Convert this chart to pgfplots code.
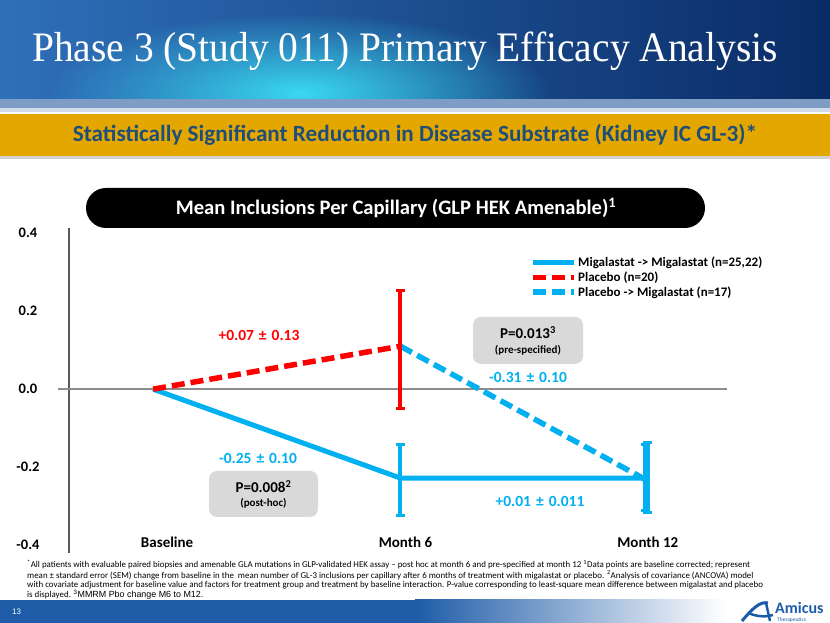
\documentclass[border=0pt]{standalone}
\usepackage{pgfplots}
\pgfplotsset{compat=1.18}
\usepackage{fontspec}
\setmainfont{Carlito}
\newfontfamily\titlefont{Liberation Serif}
\newfontfamily\arialfont{Liberation Sans}
\usetikzlibrary{fadings}
\tikzfading[name=glowfade, inner color=transparent!0, outer color=transparent!100]
\definecolor{mblue}{HTML}{00B0F0}
\definecolor{mred}{HTML}{FF0000}
\definecolor{subblue}{HTML}{1F4E79}
\definecolor{gold}{HTML}{E4A700}
\definecolor{hL}{HTML}{2F70BA}
\definecolor{hM}{HTML}{1565C4}
\definecolor{hR}{HTML}{0A2C66}
\definecolor{glow}{HTML}{3AD8F2}
\definecolor{strip}{HTML}{7F9CC4}
\definecolor{axisgray}{HTML}{595959}
\definecolor{zerogray}{HTML}{8C8C8C}
\definecolor{boxgray}{HTML}{D9D9D9}
\definecolor{footblue}{HTML}{1E5CA8}
\definecolor{amicus}{HTML}{1B5DAA}
\newcommand{\pmsp}{\hspace*{5pt}±\hspace*{5pt}}
\begin{document}
\begin{tikzpicture}[x=1pt,y=1pt]
\useasboundingbox (0,0) rectangle (830,623);
\fill[white] (0,0) rectangle (830,623);
% header
\shade[left color=hL, middle color=hM, right color=hR] (0,524) rectangle (830,623);
\begin{scope}
\clip (0,524) rectangle (830,623);
\fill[glow, path fading=glowfade] (300,530) ellipse [x radius=250, y radius=80];
\end{scope}
\fill[strip] (0,515) rectangle (830,524);
\fill[strip!35] (0,511) rectangle (830,515);
\node[anchor=base west, inner sep=0pt, xscale=0.94, text=white, font=\titlefont\fontsize{42}{50}\selectfont] at (32,561) {Phase 3 (Study 011) Primary Efficacy Analysis};
% yellow band
\fill[black!18] (0,464) rectangle (830,467);
\fill[gold] (0,467) rectangle (830,509);
\node[anchor=base, inner sep=0pt, text=subblue, font=\bfseries\fontsize{23.2}{26}\selectfont] at (415,481) {Statistically Significant Reduction in Disease Substrate (Kidney IC GL-3)*};
% black pill
\fill[black, rounded corners=20pt] (86,395) rectangle (705,435);
\node[anchor=base, inner sep=0pt, text=white, font=\bfseries\fontsize{20.6}{23}\selectfont] at (396,408) {Mean Inclusions Per Capillary (GLP HEK Amenable)\textsuperscript{1}};

\begin{axis}[
  at={(69pt,70pt)}, anchor=south west, scale only axis,
  width=658pt, height=325pt,
  xmin=-0.34, xmax=2.32, ymin=-0.42, ymax=0.413,
  clip=false,
  axis lines*=left,
  x axis line style={draw=none},
  y axis line style={draw=axisgray, line width=1.5pt},
  major tick length=0pt,
  xtick={0,1,2},
  xticklabels={\hspace*{28pt}Baseline,\hspace*{10pt}Month 6,Month 12},
  xticklabel style={anchor=base, yshift=5pt, font=\bfseries\fontsize{15}{18}\selectfont},
  ytick={-0.4,-0.2,0,0.2,0.4},
  yticklabel style={anchor=center, xshift=-41pt, font=\bfseries\fontsize{14.5}{17}\selectfont,
    /pgf/number format/.cd, fixed, fixed zerofill, precision=1, assume math mode=true},
  legend style={at={(0.7006,0.915)}, anchor=north west, draw=none, fill=none,
    font=\bfseries\fontsize{13}{15}\selectfont, row sep=0.5pt, inner sep=0pt,
    nodes={inner sep=1.5pt}},
  legend cell align=left,
  legend image code/.code={\draw[#1] (0pt,0pt) -- (41pt,0pt);},
]
\addplot[zerogray, line width=1.5pt, forget plot] coordinates {(-0.384,0) (2.319,0)};
\addplot[mblue, line width=5pt] coordinates {(0,0) (1,-0.228) (2,-0.228)};
\addlegendentry{Migalastat -> Migalastat (n=25,22)}
\addplot[mred, line width=5.5pt, dash pattern=on 13pt off 6pt] coordinates {(0,0) (1,0.11)};
\addlegendentry{Placebo (n=20)}
\addplot[mblue, line width=5.5pt, dash pattern=on 13pt off 6pt] coordinates {(1,0.11) (2,-0.235)};
\addlegendentry{Placebo -> Migalastat (n=17)}
% error bars (mean +/- SEM)
\addplot[forget plot, mred, line width=4pt, mark=-, mark size=4.5pt, mark options={line width=3pt, solid}]
  coordinates {(1,0.254) (1,-0.049)};
\addplot[forget plot, mblue, line width=4pt, mark=-, mark size=4.5pt, mark options={line width=3pt, solid}]
  coordinates {(1,-0.141) (1,-0.323)};
\addplot[forget plot, mblue, line width=4pt, mark=-, mark size=4.5pt, mark options={line width=3pt, solid}]
  coordinates {(2,-0.136) (2,-0.315)};
\addplot[forget plot, mblue, line width=4pt, mark=-, mark size=4.5pt, mark options={line width=3pt, solid}]
  coordinates {(1.99,-0.142) (1.99,-0.311)};
\end{axis}

% annotations
\node[text=mred, font=\bfseries\fontsize{15.5}{18}\selectfont] at (259,288) {+0.07\pmsp0.13};
\node[text=mblue, font=\bfseries\fontsize{15.5}{18}\selectfont] at (258,165) {-0.25\pmsp0.10};
\node[text=mblue, font=\bfseries\fontsize{15.5}{18}\selectfont] at (528,246) {-0.31\pmsp0.10};
\node[text=mblue, font=\bfseries\fontsize{15.5}{18}\selectfont] at (540,122) {+0.01\pmsp0.011};
\fill[boxgray, rounded corners=8pt] (209,106) rectangle (318,152);
\node[font=\bfseries\fontsize{15}{18}\selectfont] at (263.5,136) {P=0.008\textsuperscript{2}};
\node[font=\bfseries\fontsize{11}{13}\selectfont] at (263.5,120) {(post-hoc)};
\fill[boxgray, rounded corners=8pt] (473,259) rectangle (583,306);
\node[font=\bfseries\fontsize{15}{18}\selectfont] at (528,290) {P=0.013\textsuperscript{3}};
\node[font=\bfseries\fontsize{11}{13}\selectfont] at (528,273) {(pre-specified)};

% footnotes
\node[anchor=north west, inner sep=0pt, align=left, font=\fontsize{8.9}{9}\selectfont] at (27,63.5) {\textsuperscript{*}All patients with evaluable paired biopsies and amenable GLA mutations in GLP-validated HEK assay -- post hoc at month 6 and pre-specified at month 12 \textsuperscript{1}Data points are baseline corrected; represent\\
mean ± standard error (SEM) change from baseline in the\ \ mean number of GL-3 inclusions per capillary after 6 months of treatment with migalastat or placebo. \textsuperscript{2}Analysis of covariance (ANCOVA) model\\
with covariate adjustment for baseline value and factors for treatment group and treatment by baseline interaction. P-value corresponding to least-square mean difference between migalastat and placebo\\
is displayed. {\arialfont\textsuperscript{3}MMRM Pbo change M6 to M12.}};

% footer
\fill[footblue] (0,0) rectangle (415,23);
\shade[left color=footblue, right color=white] (415,0) rectangle (725,23);
\node[anchor=base west, inner sep=0pt, text=white, font=\arialfont\fontsize{8}{9}\selectfont] at (12,8) {13};
% logo
\draw[amicus, line width=3pt] (742,2) .. controls (752,14) and (760,22) .. (768,20);
\draw[amicus, line width=2.5pt] (748,10) .. controls (758,6) and (766,6) .. (773,8);
\draw[amicus, line width=2.5pt] (766,20) -- (770,2);
\node[anchor=base west, inner sep=0pt, text=amicus, font=\bfseries\fontsize{16}{17}\selectfont] at (775,9) {Amicus};
\node[anchor=base west, inner sep=0pt, text=amicus, font=\fontsize{5.5}{6}\selectfont] at (777,1) {Therapeutics};
\end{tikzpicture}
\end{document}
